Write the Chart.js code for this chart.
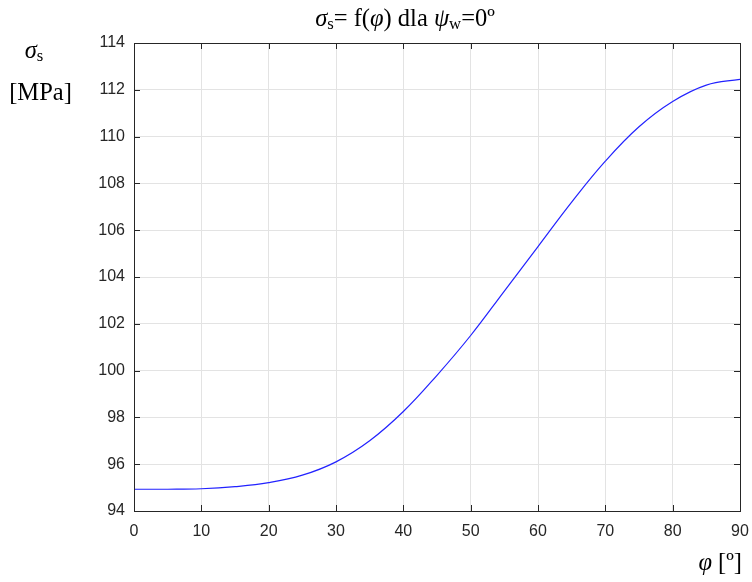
<!DOCTYPE html>
<html>
<head>
<meta charset="utf-8">
<script src="https://cdn.jsdelivr.net/npm/chart.js@4/dist/chart.umd.min.js"></script>
<style>
  html, body { margin: 0; padding: 0; background: #fff; }
  #wrap { width: 752px; height: 582px; position: relative; }
</style>
</head>
<body>
<div id="wrap"><canvas id="c" width="752" height="582"></canvas></div>
<script>
// Angle phi [deg] and the resulting stress sigma_s [MPa]
const phiDeg = [0, 5, 10, 15, 20, 25, 30, 35, 40, 45, 50, 55, 60, 65, 70, 75, 80, 85, 90];
const sigmaS = [94.93, 94.93, 94.95, 95.04, 95.21, 95.53, 96.1, 97.0, 98.25, 99.8, 101.5, 103.4,
                105.3, 107.2, 108.95, 110.42, 111.5, 112.2, 112.45];

const xTicks = [0, 10, 20, 30, 40, 50, 60, 70, 80, 90];
const yTicks = [94, 96, 98, 100, 102, 104, 106, 108, 110, 112, 114];

const AXIS_COLOR = '#262626';
const SERIF = '"Liberation Serif", "Times New Roman", serif';
const SANS = '"Liberation Sans", Arial, sans-serif';
const LABEL_SIZE = 24.5;

// Draws a sequence of text runs (normal / italic / subscript)
function drawRuns(ctx, runs, x, y, size, align) {
  const fonts = runs.map(r => (r.it ? 'italic ' : '') + (r.sub ? size * 0.68 : size).toFixed(1) + 'px ' + SERIF);
  let total = 0;
  const widths = runs.map((r, i) => { ctx.font = fonts[i]; const w = ctx.measureText(r.t).width; total += w; return w; });
  let cx = align === 'center' ? x - total / 2 : (align === 'right' ? x - total : x);
  ctx.textBaseline = 'alphabetic';
  ctx.textAlign = 'left';
  runs.forEach((r, i) => {
    ctx.font = fonts[i];
    ctx.fillText(r.t, cx, y + (r.sub ? size * 0.12 : 0));
    cx += widths[i];
  });
}

const framePlugin = {
  id: 'frame',
  afterDraw(chart) {
    const ctx = chart.ctx;
    const a = chart.chartArea;
    const xs = chart.scales.x, ys = chart.scales.y;
    ctx.save();
    ctx.strokeStyle = AXIS_COLOR;
    ctx.lineWidth = 1;
    // box around the plot area
    ctx.strokeRect(Math.round(a.left) + 0.5, Math.round(a.top) + 0.5,
                   Math.round(a.right - a.left), Math.round(a.bottom - a.top));
    // inward ticks on all four sides
    const L = 6;
    ctx.beginPath();
    xTicks.forEach(v => {
      const px = Math.round(xs.getPixelForValue(v)) + 0.5;
      ctx.moveTo(px, a.bottom); ctx.lineTo(px, a.bottom - L);
      ctx.moveTo(px, a.top); ctx.lineTo(px, a.top + L);
    });
    yTicks.forEach(v => {
      const py = Math.round(ys.getPixelForValue(v)) + 0.5;
      ctx.moveTo(a.left, py); ctx.lineTo(a.left + L, py);
      ctx.moveTo(a.right, py); ctx.lineTo(a.right - L, py);
    });
    ctx.stroke();

    // title and axis labels
    ctx.fillStyle = '#000';
    drawRuns(ctx, [
      { t: 'σ', it: true }, { t: 's', sub: true }, { t: '= f(' }, { t: 'φ', it: true },
      { t: ') dla ' }, { t: 'ψ', it: true }, { t: 'w', sub: true }, { t: '=0º' }
    ], 405, 26, LABEL_SIZE, 'center');
    drawRuns(ctx, [{ t: 'σ', it: true }, { t: 's', sub: true }], 34, 58, LABEL_SIZE, 'center');
    drawRuns(ctx, [{ t: '[MPa]' }], 40.5, 100, LABEL_SIZE, 'center');
    drawRuns(ctx, [{ t: 'φ', it: true }, { t: ' [º]' }], 742, 570, LABEL_SIZE, 'right');
    ctx.restore();
  }
};

new Chart(document.getElementById('c'), {
  type: 'line',
  data: {
    datasets: [{
      data: phiDeg.map((p, i) => ({ x: p, y: sigmaS[i] })),
      borderColor: '#2222ff',
      borderWidth: 1.2,
      pointRadius: 0,
      fill: false,
      tension: 0.4
    }]
  },
  options: {
    responsive: false,
    animation: false,
    devicePixelRatio: 1,
    layout: { padding: { top: 43, right: 12, left: 0, bottom: 0 } },
    plugins: { legend: { display: false }, tooltip: { enabled: false }, title: { display: false } },
    scales: {
      x: {
        type: 'linear',
        min: 0, max: 90,
        afterBuildTicks: s => { s.ticks = xTicks.map(v => ({ value: v })); },
        afterFit: s => { s.height = 71; s.paddingLeft = 0; s.paddingRight = 0; },
        grid: { color: '#e3e3e3', lineWidth: 1, drawTicks: false },
        border: { display: false },
        ticks: {
          color: AXIS_COLOR, padding: 11, maxRotation: 0,
          font: { family: SANS, size: 16 }
        }
      },
      y: {
        type: 'linear',
        min: 94, max: 114,
        afterBuildTicks: s => { s.ticks = yTicks.map(v => ({ value: v })); },
        afterFit: s => { s.width = 134; s.paddingTop = 0; s.paddingBottom = 0; },
        grid: { color: '#e3e3e3', lineWidth: 1, drawTicks: false },
        border: { display: false },
        ticks: {
          color: AXIS_COLOR, padding: 9,
          font: { family: SANS, size: 16 }
        }
      }
    }
  },
  plugins: [framePlugin]
});
</script>
</body>
</html>
